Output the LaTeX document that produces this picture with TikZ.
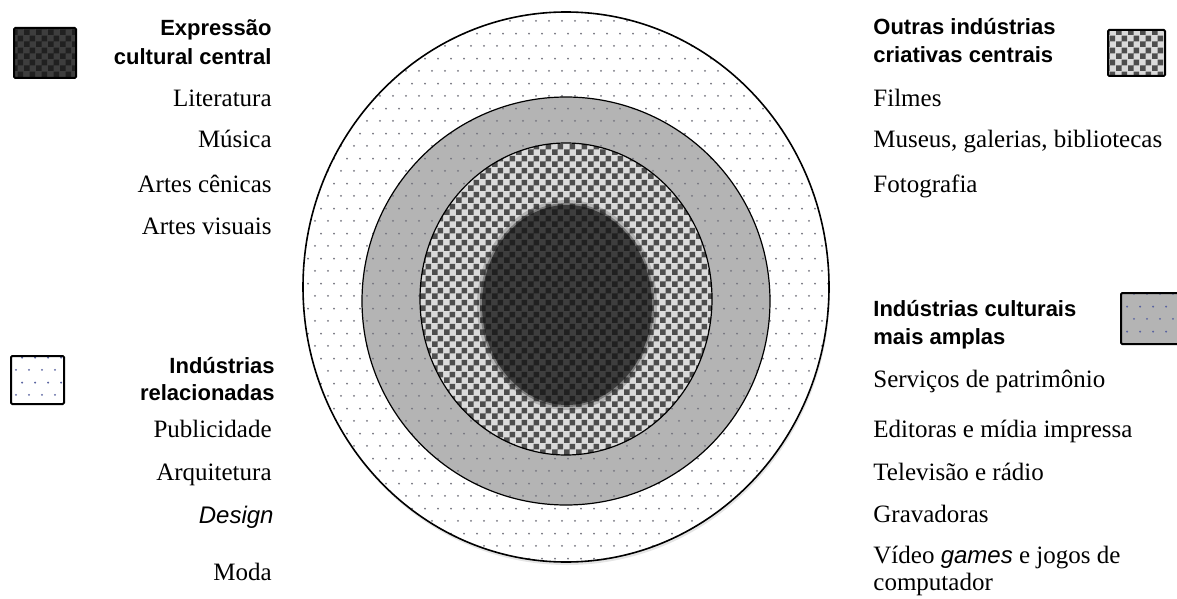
\documentclass[tikz,border=0pt]{standalone}
\usepackage{fontspec}
\setmainfont{Liberation Serif}
\setsansfont{Liberation Sans}
\usetikzlibrary{patterns}

\pgfdeclarepatternformonly{checks}{\pgfpointorigin}{\pgfqpoint{6pt}{6pt}}{\pgfqpoint{6pt}{6pt}}{%
  \pgfpathrectangle{\pgfpointorigin}{\pgfqpoint{3pt}{3pt}}%
  \pgfpathrectangle{\pgfqpoint{3pt}{3pt}}{\pgfqpoint{3pt}{3pt}}%
  \pgfusepath{fill}}
\pgfdeclarepatternformonly{specks}{\pgfpointorigin}{\pgfqpoint{6.5pt}{12.6pt}}{\pgfqpoint{6.5pt}{12.6pt}}{%
  \pgfpathcircle{\pgfqpoint{1.6pt}{1.6pt}}{0.55pt}%
  \pgfpathcircle{\pgfqpoint{4.85pt}{7.9pt}}{0.55pt}%
  \pgfusepath{fill}}

\definecolor{ringgray}{HTML}{B4B4B4}
\definecolor{chklight}{HTML}{DADADA}
\definecolor{chkdark}{HTML}{4E4E4E}
\definecolor{coredark}{HTML}{202020}
\definecolor{corelight}{HTML}{3E3E3E}
\definecolor{speckgray}{HTML}{74747E}
\definecolor{speckblue}{HTML}{5A64A0}

\tikzset{
  heading/.style={font=\sffamily\bfseries\fontsize{11}{13.2}\selectfont, inner sep=0pt},
  item/.style={font=\fontsize{12.5}{15}\selectfont, inner sep=0pt},
  keybox/.style={draw=black, line width=1pt, rounded corners=0.6pt},
}

\begin{document}
\begin{tikzpicture}[x=0.5pt,y=-0.5pt]
\useasboundingbox (0,0) rectangle (1177,599);

% Rings
\fill[black!25, opacity=0.4] (567,290) ellipse [x radius=263, y radius=275];
\path[fill=white] (566,287) ellipse [x radius=263, y radius=275];
\path[pattern=specks, pattern color=speckgray] (566,287) ellipse [x radius=263, y radius=275];
\draw[line width=0.8pt] (566,287) ellipse [x radius=263, y radius=275];

\path[fill=ringgray] (566,301) ellipse [x radius=204, y radius=204];
\path[pattern=specks, pattern color=speckgray] (566,301) ellipse [x radius=204, y radius=204];
\draw[line width=0.6pt] (566,301) ellipse [x radius=204, y radius=204];

\path[fill=chklight] (566,299) ellipse [x radius=146, y radius=156];
\path[pattern=checks, pattern color=chkdark] (566,299) ellipse [x radius=146, y radius=156];
\draw[line width=0.6pt] (566,299) ellipse [x radius=146, y radius=156];

% Core with soft edge
\fill[coredark, opacity=0.2] (567,305) ellipse [x radius=90, y radius=105];
\fill[coredark, opacity=0.35] (567,305) ellipse [x radius=87, y radius=102];
\path[fill=corelight] (567,305) ellipse [x radius=85, y radius=100];
\path[pattern=checks, pattern color=coredark] (567,305) ellipse [x radius=85, y radius=100];

% Legend boxes
\fill[corelight] (14,28) rectangle (76,78);
\path[pattern=checks, pattern color=coredark] (14,28) rectangle (76,78);
\node[keybox, minimum width=31pt, minimum height=25pt] (keyExp) at (45,53) {};

\fill[chklight] (1108,30) rectangle (1165,76);
\path[pattern=checks, pattern color=chkdark] (1108,30) rectangle (1165,76);
\node[keybox, minimum width=28.5pt, minimum height=23pt] (keyOut) at (1136.5,53) {};

\fill[white] (11,356) rectangle (64,404);
\path[pattern=specks, pattern color=speckblue] (11,356) rectangle (64,404);
\node[keybox, minimum width=26.5pt, minimum height=24pt] (keyRel) at (37.5,380) {};

\fill[ringgray] (1121,293) rectangle (1180,344);
\path[pattern=specks, pattern color=speckblue] (1121,293) rectangle (1180,344);
\node[keybox, minimum width=29.5pt, minimum height=25.5pt] (keyAmp) at (1150.5,318.5) {};

% Left, upper group
\node[heading, anchor=base east] (hExpA) at (272,36) {Expressão};
\node[heading, anchor=base east] (hExpB) at (272,65) {cultural central};
\node[item, anchor=base east] (lit) at (272,107) {Literatura};
\node[item, anchor=base east] (mus) at (272,148) {Música};
\node[item, anchor=base east] (cen) at (272,192) {Artes cênicas};
\node[item, anchor=base east] (vis) at (272,234) {Artes visuais};

% Left, lower group
\node[heading, anchor=base east] (hRelA) at (275,373) {Indústrias};
\node[heading, anchor=base east] (hRelB) at (275,400) {relacionadas};
\node[item, anchor=base east] (pub) at (272,437) {Publicidade};
\node[item, anchor=base east] (arq) at (272,480) {Arquitetura};
\node[item, anchor=base east, font=\sffamily\itshape\fontsize{12}{14}\selectfont] (des) at (274,523) {Design};
\node[item, anchor=base east] (mod) at (272,580) {Moda};

% Right, upper group
\node[heading, anchor=base west] (hOutA) at (873,35) {Outras indústrias};
\node[heading, anchor=base west] (hOutB) at (873,63) {criativas centrais};
\node[item, anchor=base west] (fil) at (873,106) {Filmes};
\node[item, anchor=base west] (mgb) at (873,148) {Museus, galerias, bibliotecas};
\node[item, anchor=base west] (fot) at (873,192) {Fotografia};

% Right, lower group
\node[heading, anchor=base west] (hAmpA) at (873,316) {Indústrias culturais};
\node[heading, anchor=base west] (hAmpB) at (873,344) {mais amplas};
\node[item, anchor=base west] (pat) at (873,387) {Serviços de patrimônio};
\node[item, anchor=base west] (edi) at (873,437) {Editoras e mídia impressa};
\node[item, anchor=base west] (tel) at (873,480) {Televisão e rádio};
\node[item, anchor=base west] (gra) at (873,522) {Gravadoras};
\node[item, anchor=base west] (vid) at (873,563) {Vídeo {\sffamily\itshape\fontsize{12}{14}\selectfont games} e jogos de};
\node[item, anchor=base west] (com) at (873,590) {computador};
\end{tikzpicture}
\end{document}
